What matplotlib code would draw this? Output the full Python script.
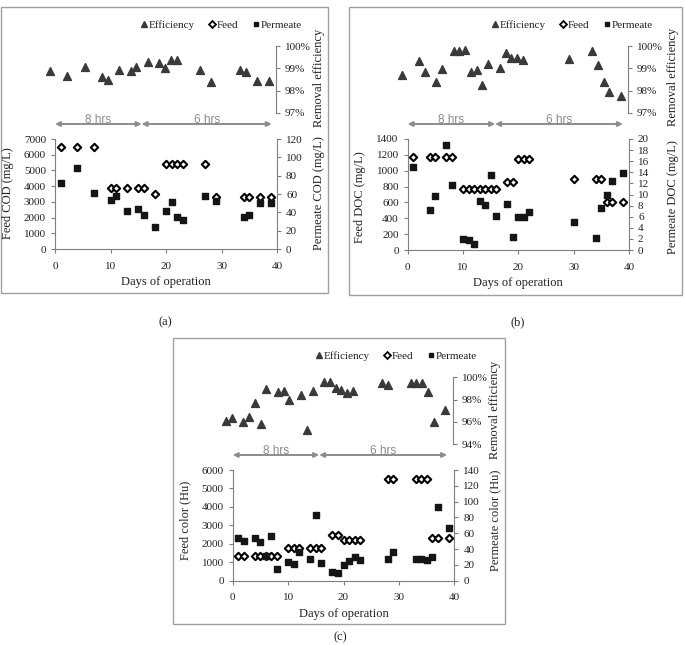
import numpy as np
import matplotlib.pyplot as plt
from matplotlib.ticker import FuncFormatter
from matplotlib.patches import Rectangle
from matplotlib.lines import Line2D

plt.rcParams['font.family'] = ['Liberation Serif', 'DejaVu Serif']

# (a) COD
cod_days = [1, 4, 7, 10, 11, 13, 15, 16, 18, 20, 21, 22, 23, 27, 29, 34, 35, 37, 39]
cod_eff = [98.88, 98.64, 99.04, 98.6, 98.48, 98.94, 98.86, 99.04, 99.29, 99.22,
           99.03, 99.36, 99.39, 98.94, 98.39, 98.92, 98.83, 98.45, 98.45]
cod_feed = [6500, 6500, 6500, 3900, 3900, 3900, 3900, 3900, 3500, 5400,
            5400, 5400, 5400, 5400, 3300, 3300, 3300, 3300, 3300]
cod_perm = [71.6, 88.4, 61.5, 53.8, 57.5, 41.5, 43.6, 37.1, 24, 41.8,
            51.3, 34.5, 32, 57.5, 52.4, 35.3, 37.5, 49.8, 49.8]

# (b) DOC
doc_days = [1, 4, 5, 7, 8, 10, 11, 12, 13, 14, 15, 16, 18, 19, 20, 21, 22, 30, 34, 35, 36, 37, 39]
doc_eff = [98.70, 99.35, 98.85, 98.38, 98.98, 99.76, 99.76, 99.84, 98.85, 98.94, 98.26, 99.19,
           99.03, 99.70, 99.47, 99.47, 99.39, 99.44, 99.76, 99.14, 98.38, 97.96, 97.74]
doc_feed = [1170, 1170, 1170, 1170, 1170, 770, 770, 770, 770, 770, 770, 770,
            860, 860, 1150, 1150, 1150, 900, 900, 900, 610, 610, 610]
doc_perm = [14.9, 7.2, 9.8, 18.9, 11.65, 1.9, 1.8, 1.15, 8.9, 8.1, 13.45, 6.1,
            8.3, 2.4, 6.0, 6.0, 6.8, 5.05, 2.1, 7.6, 9.85, 12.5, 13.9]

# (c) colour
col_days = [1, 2, 4, 5, 6, 7, 8, 10, 11, 12, 14, 15, 16, 18, 19, 20, 21, 22, 23,
            28, 29, 33, 34, 35, 36, 37, 39]
col_eff = [96.09, 96.33, 96.03, 96.42, 97.67, 95.82, 98.99, 98.69, 98.81, 97.94, 98.39, 95.28,
           98.75, 99.55, 99.61, 99.07, 98.87, 98.60, 98.81, 99.49, 99.31, 99.52, 99.52, 99.52,
           98.69, 95.97, 97.10]
col_feed = [1360, 1360, 1360, 1360, 1360, 1360, 1360, 1750, 1750, 1750, 1750, 1750, 1750,
            2480, 2480, 2230, 2230, 2230, 2230, 5500, 5500, 5500, 5500, 5500, 2340, 2340, 2340]
col_perm = [53.6, 50.2, 54, 48.9, 31.6, 56.5, 14.3, 23.6, 21.1, 36.3, 27.8, 83.5, 21.9,
            11.4, 10.1, 19.8, 24.9, 30.4, 26.1, 27.4, 36.3, 27.4, 27.8, 26.6, 29.9, 93.6, 67.1]

W, H = 685, 645
SP = '#7f7f7f'
TXT = '#222222'
FS = 8

fig = plt.figure(figsize=(W / 100, H / 100), dpi=100)


def rect(l, r, t, b):
    return [l / W, 1 - b / H, (r - l) / W, (b - t) / H]


def style(ax, sides):
    for s in ['left', 'right', 'top', 'bottom']:
        ax.spines[s].set_visible(s in sides)
        ax.spines[s].set_color(SP)
        ax.spines[s].set_linewidth(0.8)
    ax.tick_params(colors=SP, labelcolor=TXT, labelsize=FS, length=3, width=0.8, direction='out')
    ax.patch.set_alpha(0)


def panel(days, eff, feed, perm, box, top, bot, xmax_top, elim, estep, flim, fstep, plim, pstep,
          flabel, plabel, lab_x, lab_y, arrow_y, split, arrow_end, leg, tag):
    # frame around the panel
    bl, br, bt, bb = box
    fig.add_artist(Rectangle((bl / W, 1 - bb / H), (br - bl) / W, (bb - bt) / H,
                             transform=fig.transFigure, fill=False, ec='#a0a0a0', lw=1))

    # efficiency on top
    ax_e = fig.add_axes(rect(*top))
    style(ax_e, ['right'])
    ax_e.scatter(days, eff, marker='^', s=32, color='#3a3a3a', zorder=3)
    ax_e.set_xlim(0, xmax_top)
    ax_e.set_ylim(*elim)
    ax_e.set_xticks([])
    ax_e.set_yticks(np.arange(elim[0], elim[1] + 0.01, estep))
    ax_e.yaxis.tick_right()
    ax_e.yaxis.set_major_formatter(FuncFormatter(lambda v, p: '%d%%' % round(v)))

    # feed / permeate below
    ax = fig.add_axes(rect(*bot))
    style(ax, ['left', 'bottom'])
    ax.scatter(days, feed, marker='D', s=14, facecolor='white', edgecolor='black', linewidth=1.5, zorder=3)
    ax.set_xlim(0, 40)
    ax.set_xticks([0, 10, 20, 30, 40])
    ax.set_ylim(*flim)
    ax.set_yticks(np.arange(flim[0], flim[1] + 1, fstep))
    ax.tick_params(axis='x', pad=6)

    ax2 = ax.twinx()
    style(ax2, ['right'])
    ax2.scatter(days, perm, marker='s', s=16, color='#151515', zorder=3)
    ax2.set_ylim(*plim)
    ax2.set_yticks(np.arange(plim[0], plim[1] + 0.1, pstep))
    ax2.set_xlim(0, 40)

    ax.set_xlabel('Days of operation', fontsize=9, color=TXT, labelpad=4)

    fig.text(lab_x[0] / W, 1 - lab_y[0] / H, flabel, rotation=90, ha='center', va='center', fontsize=9, color=TXT)
    fig.text(lab_x[1] / W, 1 - lab_y[0] / H, plabel, rotation=90, ha='center', va='center', fontsize=9, color=TXT)
    fig.text(lab_x[1] / W, 1 - lab_y[1] / H, 'Removal efficiency', rotation=90, ha='center', va='center',
             fontsize=9, color=TXT)

    # operating period arrows
    yy = 1 - arrow_y / H
    for x0, x1, t in [(0, split, '8 hrs'), (split, arrow_end, '6 hrs')]:
        ax.annotate('', xy=(x1, yy), xytext=(x0, yy), xycoords=('data', 'figure fraction'),
                    textcoords=('data', 'figure fraction'), annotation_clip=False,
                    arrowprops=dict(arrowstyle='<|-|>', color='#8c8c8c', lw=1.4,
                                    mutation_scale=7, shrinkA=0, shrinkB=0))
        ax.annotate(t, xy=((x0 + x1) / 2, yy + 1 / H), xycoords=('data', 'figure fraction'),
                    ha='center', va='baseline', fontsize=8.5, color='#8c8c8c',
                    family=['Liberation Sans', 'DejaVu Sans'], annotation_clip=False)

    handles = [Line2D([], [], ls='', marker='^', ms=5, color='#3a3a3a'),
               Line2D([], [], ls='', marker='D', ms=3.5, mfc='white', mec='black', mew=1.3),
               Line2D([], [], ls='', marker='s', ms=3.5, color='#151515')]
    fig.legend(handles, ['Efficiency', 'Feed', 'Permeate'], loc='center',
               bbox_to_anchor=(leg[0] / W, 1 - leg[1] / H), ncol=3, frameon=False,
               fontsize=8, handlelength=0.7, handletextpad=0.1, columnspacing=1.2, labelcolor=TXT)

    fig.text(tag[0] / W, 1 - tag[1] / H, tag[2], ha='center', va='center', fontsize=9, color=TXT)


panel(cod_days, cod_eff, cod_feed, cod_perm,
      box=(1, 328, 7, 293), top=(44.3, 276, 46, 113), bot=(55, 277, 139, 249), xmax_top=40.26,
      elim=(97, 100), estep=1, flim=(0, 7000), fstep=1000, plim=(0, 120), pstep=20,
      flabel='Feed COD (mg/L)', plabel='Permeate COD (mg/L)', lab_x=(8, 319), lab_y=(193, 78),
      arrow_y=124, split=15.6, arrow_end=39.05, leg=(221, 25), tag=(165, 322, '(a)'))

panel(doc_days, doc_eff, doc_feed, doc_perm,
      box=(349, 682, 7, 295), top=(395.9, 628, 46, 113), bot=(407.7, 629, 139, 250), xmax_top=40.22,
      elim=(97, 100), estep=1, flim=(0, 1400), fstep=200, plim=(0, 20), pstep=2,
      flabel='Feed DOC (mg/L)', plabel='Permeate DOC (mg/L)', lab_x=(360, 673), lab_y=(197, 77),
      arrow_y=124, split=15.8, arrow_end=38.9, leg=(572, 25), tag=(518, 322, '(b)'))

panel(col_days, col_eff, col_feed, col_perm,
      box=(173, 505, 338, 624), top=(220.2, 452.7, 377.3, 444.3), bot=(232.7, 454.3, 470, 580.7),
      xmax_top=40.29, elim=(94, 100), estep=2, flim=(0, 6000), fstep=1000, plim=(0, 140), pstep=20,
      flabel='Feed color (Hu)', plabel='Permeate color (Hu)', lab_x=(185, 495), lab_y=(520, 410),
      arrow_y=455, split=15.6, arrow_end=38.7, leg=(396, 356), tag=(340, 637, '(c)'))

fig.savefig('out.png', dpi=100)
